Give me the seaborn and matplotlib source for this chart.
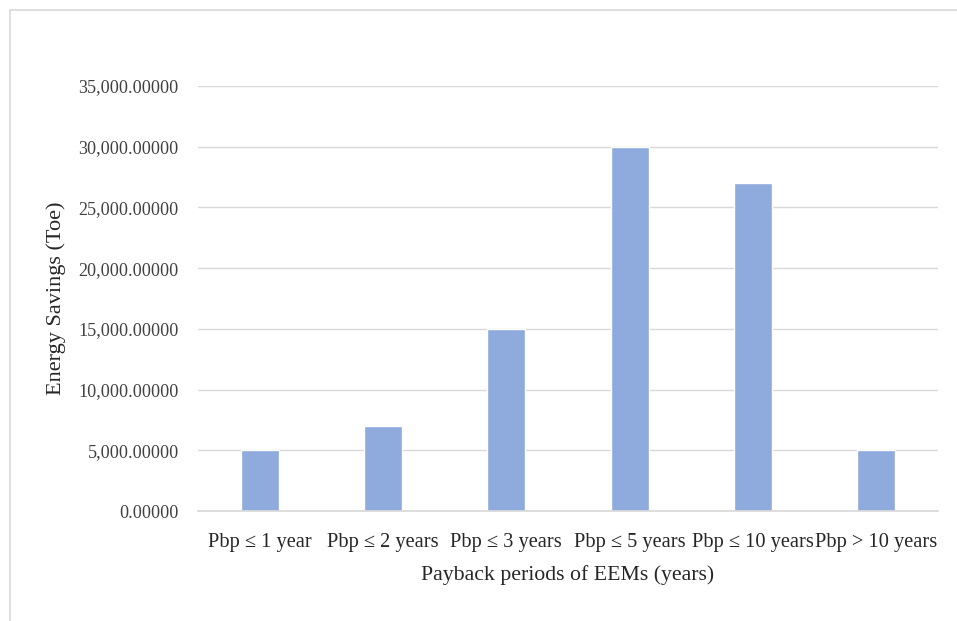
import matplotlib
matplotlib.use("Agg")
import matplotlib.pyplot as plt
from matplotlib.patches import Rectangle
from matplotlib.ticker import FuncFormatter
import seaborn as sns

# Data
periods = ["Pbp ≤ 1 year", "Pbp ≤ 2 years", "Pbp ≤ 3 years",
           "Pbp ≤ 5 years", "Pbp ≤ 10 years", "Pbp > 10 years"]
savings = [5000, 7000, 15000, 30000, 27000, 5000]
y_ticks = [0, 5000, 10000, 15000, 20000, 25000, 30000, 35000]

sns.set_theme(style="white")
plt.rcParams["font.family"] = ["Liberation Serif", "DejaVu Serif"]

fig = plt.figure(figsize=(9.57, 6.21), dpi=100)
ax = fig.add_axes([0.207, 0.177, 0.773, 0.6845])

sns.barplot(x=periods, y=savings, color="#8FAADC", saturation=1, width=0.31, ax=ax)

ax.set_ylim(0, 35000)
ax.set_yticks(y_ticks)
ax.yaxis.set_major_formatter(FuncFormatter(lambda v, p: f"{v:,.5f}"))
ax.grid(axis="y", color="#D9D9D9", linewidth=1)
ax.set_axisbelow(True)
for s in ["top", "right", "left"]:
    ax.spines[s].set_visible(False)
ax.spines["bottom"].set_color("#D9D9D9")
ax.tick_params(axis="y", length=0, labelsize=13.1, colors="#404040", pad=14)
ax.tick_params(axis="x", length=0, labelsize=14.7, colors="#262626", pad=16)

ax.set_xlabel("Payback periods of EEMs (years)", fontsize=15.7, color="#262626", labelpad=9)
ax.set_ylabel("Energy Savings (Toe)", fontsize=16, color="#262626", labelpad=9)

# outer chart border
fig.patches.append(Rectangle((0.0105, -0.1), 1.2, 1.084, transform=fig.transFigure,
                             fill=False, edgecolor="#D9D9D9", linewidth=1.2))

fig.savefig("out.png", dpi=100)
